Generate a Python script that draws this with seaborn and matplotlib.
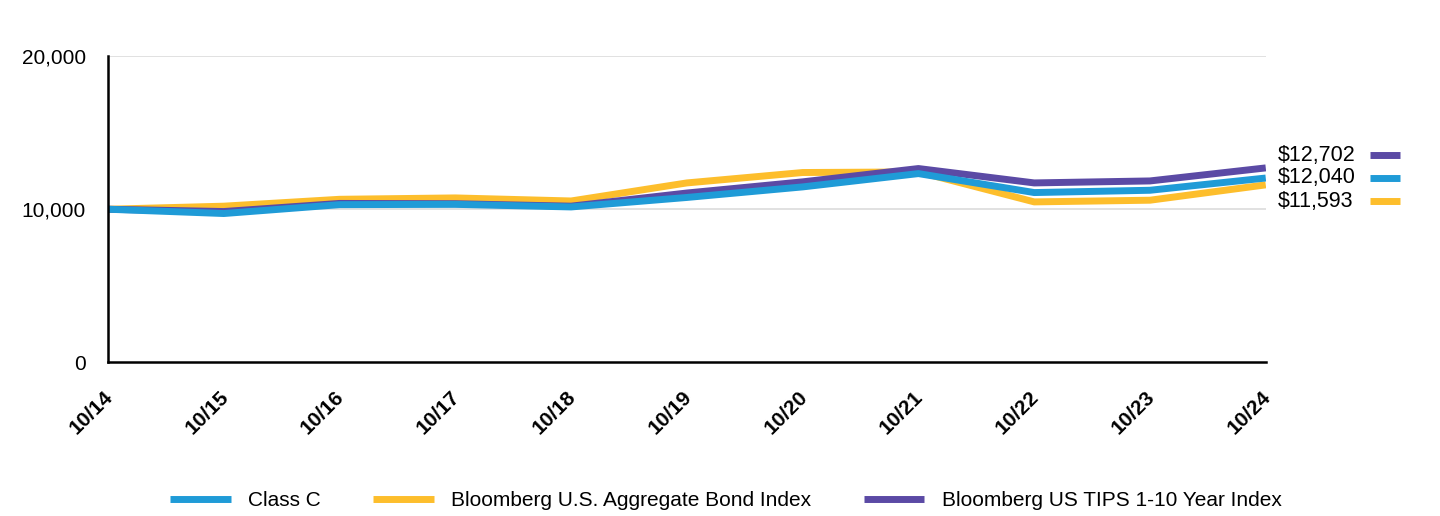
import pandas as pd
import matplotlib
matplotlib.use("Agg")
import matplotlib.pyplot as plt
import matplotlib.transforms as mtransforms
import seaborn as sns

# values
periods = ["10/14", "10/15", "10/16", "10/17", "10/18", "10/19",
           "10/20", "10/21", "10/22", "10/23", "10/24"]
class_c = [10000, 9720, 10300, 10320, 10150, 10770, 11460, 12330, 11090, 11240, 12040]
agg_bond = [10000, 10200, 10650, 10740, 10540, 11720, 12400, 12440, 10480, 10590, 11593]
tips = [10000, 9850, 10380, 10360, 10200, 11060, 11790, 12660, 11720, 11850, 12702]

series_names = ["Class C", "Bloomberg U.S. Aggregate Bond Index",
                "Bloomberg US TIPS 1-10 Year Index"]
end_labels = ["$12,040", "$11,593", "$12,702"]
colors = ["#1F9BD7", "#FDBE2C", "#5B4AA5"]

sns.set_theme(style="white")
plt.rcParams["font.family"] = ["Liberation Sans", "DejaVu Sans"]
plt.rcParams["text.color"] = "black"
plt.rcParams["xtick.color"] = "black"
plt.rcParams["ytick.color"] = "black"

df = pd.DataFrame({"x": list(range(len(periods))) * 3,
                   "value": class_c + agg_bond + tips,
                   "series": [s for s in series_names for _ in periods]})

fig = plt.figure(figsize=(14.4, 5.16), dpi=100)
ax = fig.add_axes([0.075, 0.298, 0.804, 0.593])

for y in (10000, 20000):
    ax.axhline(y, color="#DCDCDC", lw=1.2, zorder=0)

# yellow first, then purple, blue on top (as in reference)
for i in [1, 2, 0]:
    sub = df[df["series"] == series_names[i]]
    sns.lineplot(data=sub, x="x", y="value", color=colors[i], lw=5,
                 ax=ax, legend=False, solid_capstyle="butt")

ax.set_xlim(0, len(periods) - 1)
ax.set_ylim(0, 20000)
ax.set_yticks([0, 10000, 20000])
ax.set_yticklabels(["0", "10,000", "20,000"], fontsize=15)
ax.set_xticks(range(len(periods)))
ax.set_xticklabels(periods, rotation=45, ha="right", rotation_mode="anchor",
                   fontsize=15, fontweight="bold")
ax.tick_params(axis="x", length=6, width=1.5, pad=12, direction="out")
ax.tick_params(axis="y", length=0, pad=16)
shift = mtransforms.ScaledTranslation(-5 / 100, 0, fig.dpi_scale_trans)
for lab in ax.get_xticklabels():
    lab.set_transform(lab.get_transform() + shift)
ax.set_xlabel("")
ax.set_ylabel("")
for side in ("top", "right"):
    ax.spines[side].set_visible(False)
for side in ("left", "bottom"):
    ax.spines[side].set_color("black")
    ax.spines[side].set_linewidth(1.8)

# end-value labels on the right
label_rows = [(2, 155), (0, 178), (1, 201)]
for idx, ypix in label_rows:
    fy = 1 - ypix / 516
    fig.text(1278 / 1440, fy, end_labels[idx], fontsize=15.5, va="center", ha="left")
    fig.add_artist(plt.Line2D([1370 / 1440, 1400 / 1440], [fy, fy],
                              color=colors[idx], lw=5, solid_capstyle="butt"))

handles = [plt.Line2D([], [], color=c, lw=5, solid_capstyle="butt") for c in colors]
fig.legend(handles, series_names, loc="center",
           bbox_to_anchor=(0.5 + 6 / 1440, 1 - 501 / 516),
           ncol=3, frameon=False, fontsize=15, handlelength=2.9,
           columnspacing=2.5, handletextpad=0.85)

fig.savefig("out.png", dpi=100)
